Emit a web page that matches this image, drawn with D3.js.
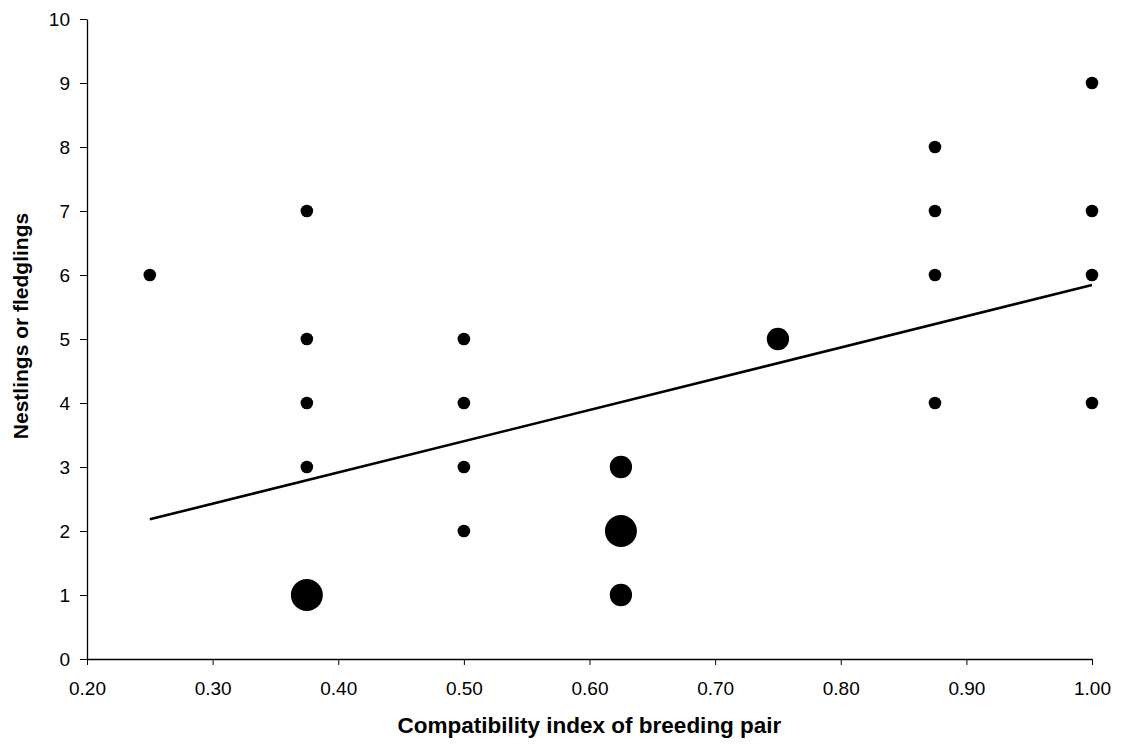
<!DOCTYPE html>
<html>
<head>
<meta charset="utf-8">
<script src="https://cdn.jsdelivr.net/npm/d3@7"></script>
<style>
  html, body { margin: 0; padding: 0; background: #fff; }
  svg { display: block; font-family: "Liberation Sans", Arial, sans-serif; }
</style>
</head>
<body>
<svg id="chart" width="1125" height="745"></svg>
<script>
// Compatibility index of each breeding pair (x), brood size (y),
// and the number of pairs sharing that combination (bubble size).
const compatibility = [0.25, 0.375, 0.375, 0.375, 0.375, 0.375,
                       0.5, 0.5, 0.5, 0.5,
                       0.625, 0.625, 0.625, 0.75,
                       0.875, 0.875, 0.875, 0.875,
                       1.0, 1.0, 1.0, 1.0];
const young = [6, 7, 5, 4, 3, 1,
               5, 4, 3, 2,
               3, 2, 1, 5,
               8, 7, 6, 4,
               9, 7, 6, 4];
const pairs = [1, 1, 1, 1, 1, 3,
               1, 1, 1, 1,
               2, 3, 2, 2,
               1, 1, 1, 1,
               1, 1, 1, 1];
const xTicks = [0.2, 0.3, 0.4, 0.5, 0.6, 0.7, 0.8, 0.9, 1.0];
const yTicks = [0, 1, 2, 3, 4, 5, 6, 7, 8, 9, 10];

const points = compatibility.map((c, i) => ({ x: c, y: young[i], n: pairs[i] }));

const svg = d3.select("#chart");
const margin = { left: 87, right: 33, top: 19, bottom: 86 };
const W = 1125, H = 745;

const x = d3.scaleLinear().domain([0.2, 1.0]).range([margin.left, W - margin.right]);
const y = d3.scaleLinear().domain([0, 10]).range([H - margin.bottom, margin.top]);
const r = d3.scaleLinear().domain([1, 3]).range([6.3, 16]);

// Axes
const xAxis = d3.axisBottom(x).tickValues(xTicks).tickFormat(d3.format(".2f"))
  .tickSize(6).tickSizeOuter(0).tickPadding(17);
const yAxis = d3.axisLeft(y).tickValues(yTicks).tickFormat(d3.format("d"))
  .tickSize(7).tickSizeOuter(0).tickPadding(10);

const gx = svg.append("g").attr("transform", `translate(0,${y(0)})`).call(xAxis);
const gy = svg.append("g").attr("transform", `translate(${x(0.2)},0)`).call(yAxis);

[gx, gy].forEach(g => {
  g.select(".domain").attr("stroke", "#000").attr("stroke-width", 1.3);
  g.selectAll(".tick line").attr("stroke", "#000").attr("stroke-width", 1);
  g.selectAll(".tick text").attr("fill", "#000").style("font-size", "19px")
    .style("font-family", "'Liberation Sans', Arial, sans-serif");
});

// Weighted least-squares trend line over the observed range
const N = d3.sum(points, p => p.n);
const mx = d3.sum(points, p => p.n * p.x) / N;
const my = d3.sum(points, p => p.n * p.y) / N;
const sxy = d3.sum(points, p => p.n * (p.x - mx) * (p.y - my));
const sxx = d3.sum(points, p => p.n * (p.x - mx) * (p.x - mx));
const slope = sxy / sxx, intercept = my - slope * mx;
const [x0, x1] = d3.extent(compatibility);

svg.append("line")
  .attr("x1", x(x0)).attr("y1", y(intercept + slope * x0))
  .attr("x2", x(x1)).attr("y2", y(intercept + slope * x1))
  .attr("stroke", "#000").attr("stroke-width", 2.6);

// Bubbles
svg.append("g").selectAll("circle").data(points).join("circle")
  .attr("cx", d => x(d.x)).attr("cy", d => y(d.y)).attr("r", d => r(d.n))
  .attr("fill", "#000");

// Axis titles
svg.append("text")
  .attr("x", (x(0.2) + x(1.0)) / 2).attr("y", 733)
  .attr("text-anchor", "middle")
  .style("font-size", "22.5px").style("font-weight", "bold")
  .text("Compatibility index of breeding pair");

svg.append("text")
  .attr("transform", `translate(28,326) rotate(-90)`)
  .attr("text-anchor", "middle")
  .style("font-size", "21px").style("font-weight", "bold")
  .text("Nestlings or fledglings");
</script>
</body>
</html>
